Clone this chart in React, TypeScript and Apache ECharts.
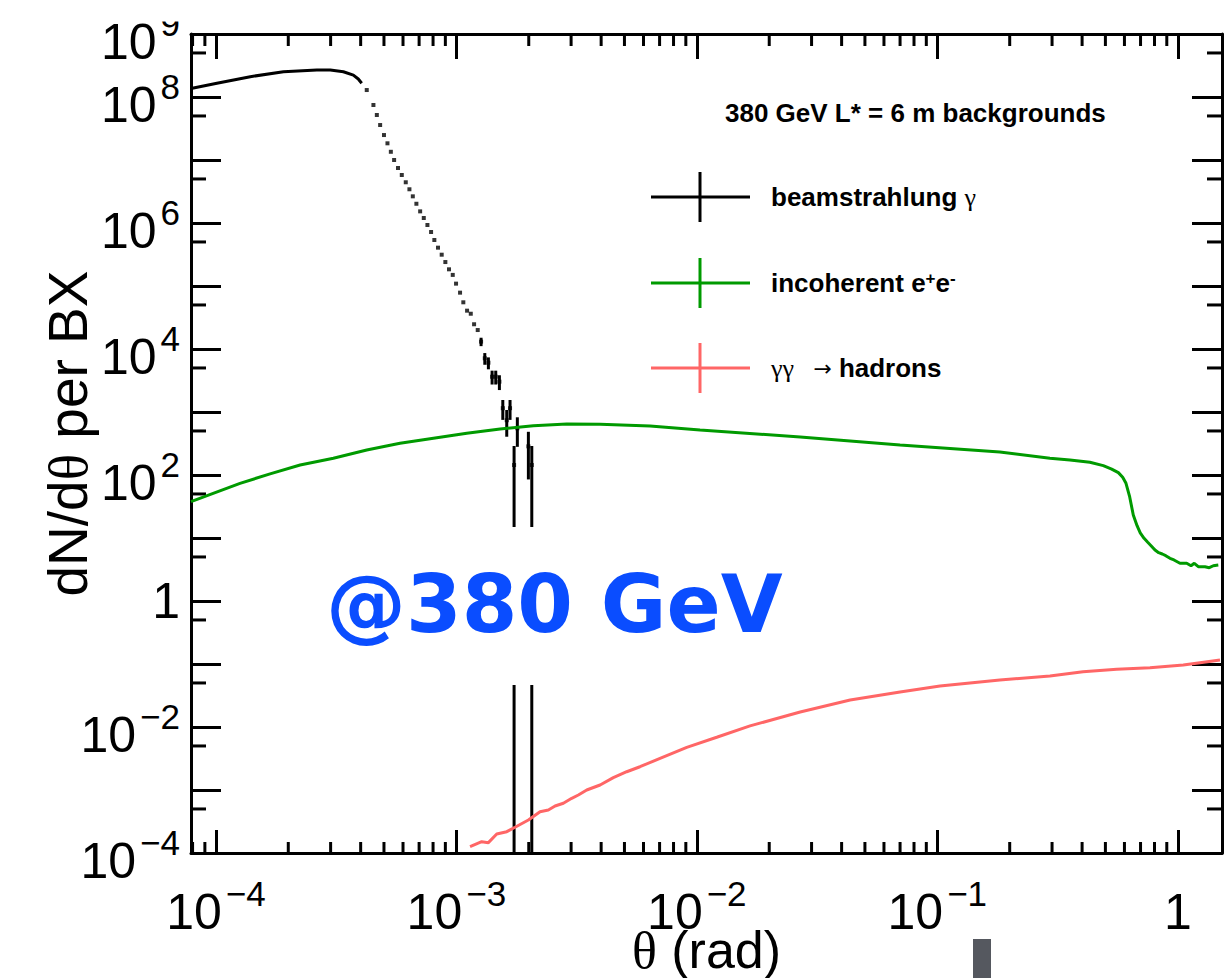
import React, { useEffect, useRef } from 'react';
import * as echarts from 'echarts';

// ---------- axis ranges ----------
const X_MIN = 7.88e-5;
const X_MAX = 1.527;
const Y_MIN = 1e-4;
const Y_MAX = 1e9;

// ---------- tick labels ----------
const xLabelExponents = [-4, -3, -2, -1, 0];
const yLabelExponents = [-4, -2, 0, 2, 4, 6, 8, 9];
const xMinorMultipliers = [2, 3, 4, 5, 6, 7, 8, 9];
const xMinorDecades = [-5, -4, -3, -2, -1, 0];
const yMinorMultipliers = [5];
const yMinorDecades = [-4, -3, -2, -1, 0, 1, 2, 3, 4, 5, 6, 7, 8];

// ---------- beamstrahlung gamma ----------
// dense plateau part
const beamLineTheta = [7.88e-5, 1.01e-4, 1.39e-4, 1.91e-4, 2.63e-4, 2.99e-4, 3.39e-4, 3.73e-4, 3.91e-4, 4.04e-4];
const beamLineVal = [1.36e8, 1.65e8, 2.10e8, 2.52e8, 2.68e8, 2.68e8, 2.52e8, 2.23e8, 1.93e8, 1.65e8];
// falling tail (individual bins)
const beamTailTheta = [
  4.24e-4, 4.52e-4, 4.67e-4, 4.82e-4, 5.00e-4, 5.17e-4, 5.34e-4, 5.51e-4, 5.72e-4, 5.93e-4,
  6.16e-4, 6.38e-4, 6.59e-4, 6.82e-4, 7.07e-4, 7.32e-4, 7.58e-4, 7.85e-4, 8.10e-4, 8.39e-4,
  8.69e-4, 9.00e-4, 9.32e-4, 9.66e-4, 9.97e-4, 1.036e-3, 1.069e-3, 1.108e-3, 1.148e-3, 1.185e-3,
  1.227e-3, 1.267e-3, 1.313e-3, 1.359e-3, 1.408e-3, 1.458e-3, 1.510e-3, 1.560e-3, 1.620e-3, 1.672e-3,
  1.738e-3, 1.793e-3, 1.993e-3, 2.059e-3,
];
const beamTailVal = [
  1.29e8, 7.46e7, 5.18e7, 3.59e7, 2.49e7, 1.84e7, 1.35e7, 1.0e7, 7.46e6, 5.78e6,
  4.43e6, 3.43e6, 2.65e6, 2.02e6, 1.53e6, 1.20e6, 9.29e5, 7.19e5, 5.37e5, 4.06e5,
  3.14e5, 2.40e5, 1.84e5, 1.50e5, 1.09e5, 7.84e4, 5.51e4, 4.06e4, 3.63e4, 2.47e4,
  2.00e4, 1.31e4, 7.12e3, 6.06e3, 3.63e3, 3.63e3, 3.03e3, 1150, 740, 1150,
  144, 552, 285, 144,
];
const beamTailErr = [
  0, 0, 0, 0, 0, 0, 0, 0, 0, 0,
  0, 0, 0, 0, 0, 0, 0, 0, 0, 0,
  0, 0, 0, 0, 0, 0, 0, 0, 0, 0,
  0, 2000, 1500, 1300, 900, 900, 800, 400, 335, 400,
  144, 272, 200, 144,
];

// ---------- incoherent e+e- ----------
const incTheta = [
  7.88e-5, 1.26e-4, 1.68e-4, 2.24e-4, 3.08e-4, 4.24e-4, 5.83e-4, 8.03e-4, 1.105e-3, 1.52e-3,
  2.09e-3, 2.88e-3, 3.96e-3, 6.39e-3, 1.031e-2, 2.69e-2, 7.00e-2, 0.182, 0.294, 0.356,
  0.431, 0.490, 0.531, 0.566, 0.590, 0.609, 0.631, 0.653, 0.677, 0.698,
  0.724, 0.750, 0.774, 0.804, 0.833, 0.862, 0.891, 0.928, 0.964, 1.021,
  1.089, 1.135, 1.171, 1.217, 1.297, 1.352, 1.405, 1.474,
];
const incVal = [
  37.7, 73.8, 104, 144, 184, 249, 319, 383, 459, 537,
  606, 645, 638, 600, 518, 401, 299, 232, 184, 173,
  159, 141, 124, 109, 91.9, 73.8, 44.8, 23.2, 15.7, 12.1,
  9.88, 8.54, 7.55, 6.45, 5.85, 5.57, 5.24, 4.76, 4.48, 3.97,
  3.97, 3.63, 3.97, 3.50, 3.50, 3.38, 3.63, 3.72,
];

// ---------- gamma gamma -> hadrons ----------
const hadTheta = [
  1.140e-3, 1.275e-3, 1.359e-3, 1.472e-3, 1.620e-3, 1.754e-3, 1.993e-3, 2.228e-3, 2.413e-3, 2.573e-3,
  2.786e-3, 3.018e-3, 3.216e-3, 3.485e-3, 3.96e-3, 4.495e-3, 5.110e-3, 5.803e-3, 7.03e-3, 9.08e-3,
  1.210e-2, 1.664e-2, 2.69e-2, 4.34e-2, 7.00e-2, 0.1026, 0.182, 0.294, 0.4035, 0.557,
  0.766, 1.054, 1.237, 1.498,
];
const hadVal = [
  1.26e-4, 1.51e-4, 1.46e-4, 2.00e-4, 2.18e-4, 2.56e-4, 3.34e-4, 4.53e-4, 4.82e-4, 5.57e-4,
  6.15e-4, 7.38e-4, 8.34e-4, 1.00e-3, 1.20e-3, 1.57e-3, 1.95e-3, 2.34e-3, 3.18e-3, 4.76e-3,
  6.87e-3, 1.04e-2, 1.73e-2, 2.68e-2, 3.60e-2, 4.48e-2, 5.57e-2, 6.45e-2, 7.55e-2, 8.24e-2,
  8.73e-2, 9.64e-2, 0.105, 0.116,
];

// ---------- texts ----------
const SERIES_NAMES = ['beamstrahlung γ', 'incoherent e+e-', 'γγ → hadrons'];
const LEGEND_TEXTS = [
  '{b|beamstrahlung }{g|γ}',
  '{b|incoherent e}{s|+}{b|e}{s|-}',
  '{g|γγ   }{a|→ }{b|hadrons}',
];
const PLOT_TITLE = '380 GeV L* = 6 m backgrounds';
const ENERGY_TAG = '@380 GeV';

const COLORS = ['#000000', '#009a00', '#ff6666'];
const FONT = 'Liberation Sans';
const SERIF = 'Liberation Serif';

const lg = Math.log10;
const toPts = (xs: number[], ys: number[]) => xs.map((x, i) => [lg(x), lg(ys[i])]);

function expText(r: number, oneStyle: string) {
  if (r === 0) return `{${oneStyle}|1}`;
  return `{b|10}{e|${r < 0 ? '\u2212' : ''}${Math.abs(r)}}`;
}

export default function App() {
  const ref = useRef<HTMLDivElement>(null);

  useEffect(() => {
    document.body.style.margin = '0';
    if (!ref.current) return;
    const chart = echarts.init(ref.current, undefined, { renderer: 'svg' });

    const lxMin = lg(X_MIN);
    const lxMax = lg(X_MAX);
    const lyMin = lg(Y_MIN);
    const lyMax = lg(Y_MAX);

    const xMinorData: number[][] = [];
    xMinorDecades.forEach((d) =>
      xMinorMultipliers.forEach((m) => {
        const v = lg(m) + d;
        if (v > lxMin && v < lxMax) xMinorData.push([v, 0]);
      })
    );
    const yMinorData: number[][] = [];
    yMinorDecades.forEach((d) =>
      yMinorMultipliers.forEach((m) => {
        const v = lg(m) + d;
        if (v > lyMin && v < lyMax) yMinorData.push([-4, v]);
      })
    );

    const errData = beamTailTheta
      .map((t, i) => {
        const v = beamTailVal[i];
        const e = beamTailErr[i];
        if (!e) return null;
        const lo = v - e > 0 ? lg(v - e) : lyMin - 0.5;
        return [lg(t), Math.max(lo, lyMin), lg(v + e)];
      })
      .filter(Boolean) as number[][];

    const labelRich: any = {
      b: { fontFamily: FONT, fontSize: 50, height: 34, lineHeight: 50, verticalAlign: 'bottom', color: '#000' },
      c: { fontFamily: FONT, fontSize: 50, lineHeight: 50, color: '#000' },
      e: { fontFamily: FONT, fontSize: 35, height: 28, lineHeight: 10, verticalAlign: 'top', padding: [0, 0, 0, 4], color: '#000' },
    };

    const xFmt = (v: number) => {
      const r = Math.round(v);
      if (Math.abs(v - r) > 1e-6 || xLabelExponents.indexOf(r) < 0) return '';
      return expText(r, 'b');
    };
    const yFmt = (v: number) => {
      const r = Math.round(v);
      if (Math.abs(v - r) > 1e-6 || yLabelExponents.indexOf(r) < 0) return '';
      return expText(r, 'c');
    };

    const axisLine = { onZero: false, lineStyle: { color: '#000', width: 3 } };
    const xNameRich = {
      n: { fontFamily: FONT, fontSize: 52, lineHeight: 40, color: '#000' },
      t: { fontFamily: SERIF, fontSize: 52, lineHeight: 40, color: '#000' },
    };
    const yNameRich = {
      n: { fontFamily: FONT, fontSize: 55, lineHeight: 52, color: '#000' },
      t: { fontFamily: SERIF, fontSize: 55, lineHeight: 52, color: '#000' },
    };

    const legendRich = {
      b: { fontFamily: FONT, fontWeight: 'bold', fontSize: 26, lineHeight: 30, fill: '#000', color: '#000' },
      g: { fontFamily: SERIF, fontSize: 26, lineHeight: 30, fill: '#000', color: '#000' },
      s: { fontFamily: FONT, fontWeight: 'bold', fontSize: 17, height: 20, lineHeight: 10, verticalAlign: 'top', fill: '#000', color: '#000' },
      a: { fontFamily: 'DejaVu Sans', fontSize: 22, lineHeight: 30, fill: '#000', color: '#000' },
    };
    const legendRowsY = [197, 283, 368];

    const graphic: any[] = [];
    legendRowsY.forEach((y, i) => {
      graphic.push(
        { type: 'line', z: 100, shape: { x1: 651, y1: y, x2: 750, y2: y }, style: { stroke: COLORS[i], lineWidth: 3 } },
        { type: 'line', z: 100, shape: { x1: 700, y1: y - 25, x2: 700, y2: y + 25 }, style: { stroke: COLORS[i], lineWidth: 3 } },
        {
          type: 'text', z: 100, x: 771, y,
          style: { text: LEGEND_TEXTS[i], rich: legendRich, verticalAlign: 'middle', textVerticalAlign: 'middle', fill: '#000' },
        }
      );
    });
    // white patch behind the energy tag
    graphic.push({ type: 'rect', z: 100, shape: { x: 318, y: 527, width: 472, height: 158 }, style: { fill: '#ffffff' } });
    graphic.push({
      type: 'text', z: 101, x: 326, y: 604,
      style: {
        text: ENERGY_TAG, fontFamily: 'DejaVu Sans', fontWeight: 'bold', fontSize: 80, fill: '#0a4dff',
        verticalAlign: 'middle', textVerticalAlign: 'middle', align: 'left', textAlign: 'left',
      },
    });
    // top-left crop of the figure
    graphic.push({ type: 'rect', z: 100, shape: { x: 90, y: 0, width: 99, height: 21.5 }, style: { fill: '#ffffff' } });
    // dark marker at bottom
    graphic.push({ type: 'rect', z: 100, shape: { x: 973, y: 939, width: 18, height: 39 }, style: { fill: '#55585f' } });

    const option: any = {
      animation: false,
      backgroundColor: '#ffffff',
      title: {
        text: PLOT_TITLE, left: 725, top: 100, padding: 0,
        textStyle: { fontFamily: FONT, fontWeight: 'bold', fontSize: 26, lineHeight: 26, color: '#000' },
      },
      grid: { left: 191, right: 3, top: 34, bottom: 125, containLabel: false, outerBoundsMode: 'none' },
      xAxis: [
        {
          type: 'value', position: 'bottom', min: lxMin, max: lxMax, splitNumber: 4,
          axisLine, splitLine: { show: false },
          axisTick: { inside: true, length: 23, lineStyle: { color: '#000', width: 3 } },
          axisLabel: { margin: 26, formatter: xFmt, rich: labelRich, showMinLabel: false, showMaxLabel: false },
          name: '{t|θ} {n|(rad)}', nameLocation: 'middle', nameGap: 77, nameMoveOverlap: false,
          nameTextStyle: { fontFamily: FONT, fontSize: 52, lineHeight: 40, color: '#000', rich: xNameRich },
        },
        {
          type: 'value', position: 'top', min: lxMin, max: lxMax, splitNumber: 4,
          axisLine, splitLine: { show: false },
          axisTick: { inside: true, length: 25, lineStyle: { color: '#000', width: 3 } },
          axisLabel: { show: false },
        },
      ],
      yAxis: [
        {
          type: 'value', position: 'left', min: lyMin, max: lyMax, interval: 1,
          axisLine, splitLine: { show: false },
          axisTick: { inside: true, length: 30, lineStyle: { color: '#000', width: 3 } },
          axisLabel: { margin: 11, formatter: yFmt, rich: labelRich, showMinLabel: true, showMaxLabel: true },
          name: '{n|dN/d}{t|θ}{n| per BX}', nameLocation: 'middle', nameGap: 97, nameMoveOverlap: false,
          nameTextStyle: { fontFamily: FONT, fontSize: 55, color: '#000', rich: yNameRich, padding: [0, 0, 0, 20] },
        },
        {
          type: 'value', position: 'right', min: lyMin, max: lyMax, interval: 1,
          axisLine, splitLine: { show: false },
          axisTick: { inside: true, length: 30, lineStyle: { color: '#000', width: 3 } },
          axisLabel: { show: false },
        },
      ],
      series: [
        {
          name: SERIES_NAMES[0], type: 'line', data: toPts(beamLineTheta, beamLineVal),
          showSymbol: false, silent: true, lineStyle: { color: COLORS[0], width: 3 }, itemStyle: { color: COLORS[0] },
        },
        {
          name: SERIES_NAMES[0], type: 'scatter', data: toPts(beamTailTheta, beamTailVal),
          symbol: 'rect', symbolSize: 4, silent: true, itemStyle: { color: COLORS[0] },
        },
        {
          name: SERIES_NAMES[0] + ' errors', type: 'custom', data: errData, silent: true, clip: true,
          encode: { x: 0, y: [1, 2] },
          renderItem: (params: any, api: any) => {
            const p1 = api.coord([api.value(0), api.value(1)]);
            const p2 = api.coord([api.value(0), api.value(2)]);
            return {
              type: 'line',
              shape: { x1: p1[0], y1: p1[1], x2: p2[0], y2: p2[1] },
              style: { stroke: COLORS[0], lineWidth: 3 },
            };
          },
        },
        {
          name: SERIES_NAMES[1], type: 'line', data: toPts(incTheta, incVal),
          showSymbol: false, silent: true, lineStyle: { color: COLORS[1], width: 3 }, itemStyle: { color: COLORS[1] },
        },
        {
          name: SERIES_NAMES[2], type: 'line', data: toPts(hadTheta, hadVal),
          showSymbol: false, silent: true, lineStyle: { color: COLORS[2], width: 3 }, itemStyle: { color: COLORS[2] },
        },
        {
          name: 'x minor ticks', type: 'custom', data: xMinorData, silent: true,
          renderItem: (params: any, api: any) => {
            const cs = params.coordSys;
            const px = api.coord([api.value(0), api.value(1)])[0];
            const bottom = cs.y + cs.height;
            const top = cs.y;
            return {
              type: 'group',
              children: [
                { type: 'line', shape: { x1: px, y1: bottom, x2: px, y2: bottom - 11 }, style: { stroke: '#000', lineWidth: 3 } },
                { type: 'line', shape: { x1: px, y1: top, x2: px, y2: top + 12 }, style: { stroke: '#000', lineWidth: 3 } },
              ],
            };
          },
        },
        {
          name: 'y minor ticks', type: 'custom', data: yMinorData, silent: true,
          renderItem: (params: any, api: any) => {
            const cs = params.coordSys;
            const py = api.coord([api.value(0), api.value(1)])[1];
            const left = cs.x;
            const right = cs.x + cs.width;
            return {
              type: 'group',
              children: [
                { type: 'line', shape: { x1: left, y1: py, x2: left + 15, y2: py }, style: { stroke: '#000', lineWidth: 3 } },
                { type: 'line', shape: { x1: right, y1: py, x2: right - 15, y2: py }, style: { stroke: '#000', lineWidth: 3 } },
              ],
            };
          },
        },
      ],
      graphic,
    };

    chart.setOption(option);
    return () => chart.dispose();
  }, []);

  return <div ref={ref} style={{ width: 1225, height: 978 }} />;
}
